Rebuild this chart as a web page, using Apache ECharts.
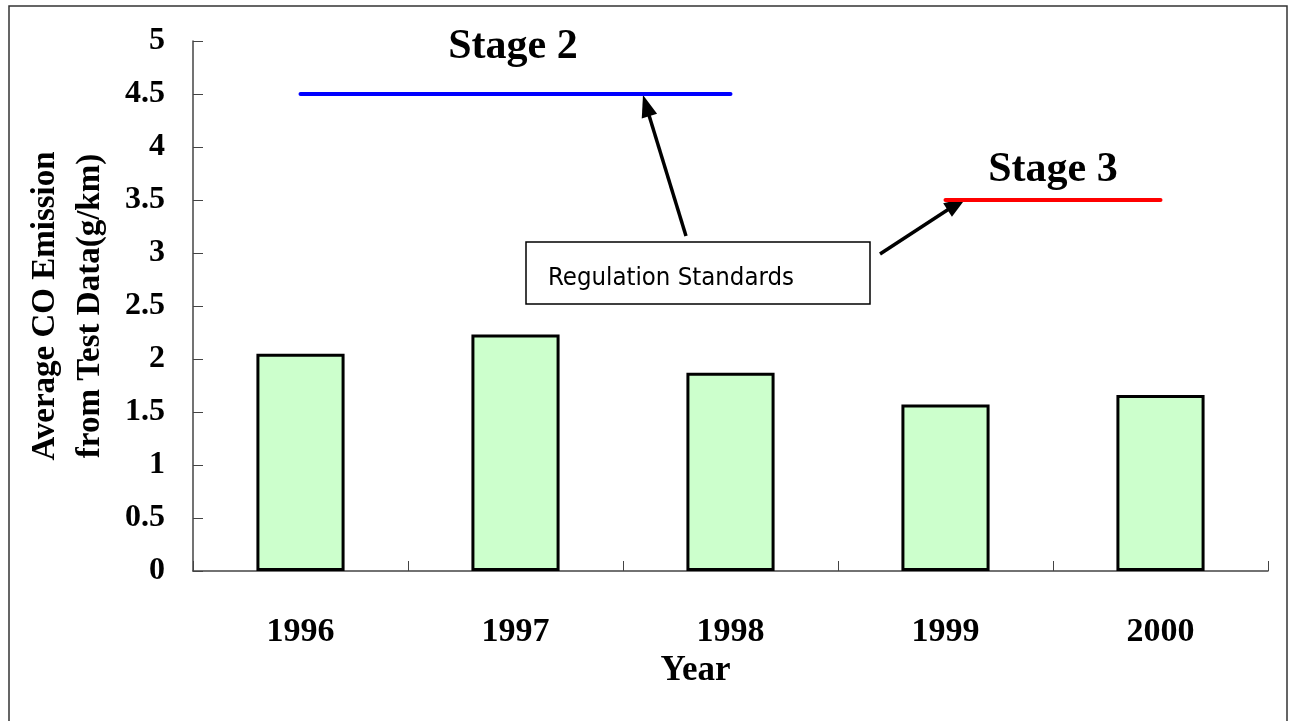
<!DOCTYPE html>
<html><head><meta charset="utf-8">
<script src="https://cdn.jsdelivr.net/npm/echarts@6/dist/echarts.min.js"></script>
<style>html,body{margin:0;padding:0;background:#fff}#c{width:1289px;height:721px}</style>
</head><body><div id="c"></div>
<script>
const years = ['1996','1997','1998','1999','2000'];
const avgCO = [2.05, 2.23, 1.87, 1.57, 1.66];
const stage2 = [4.5, 4.5, 4.5, null, null];
const stage3 = [null, null, null, 3.5, 3.5];
const yTicks = {min: 0, max: 5, interval: 0.5};

const chart = echarts.init(document.getElementById('c'));
const serif = 'Liberation Serif';
function arrowHead(tx, ty, fx, fy, len, half) {
  const dx = tx - fx, dy = ty - fy, L = Math.hypot(dx, dy);
  const ux = dx / L, uy = dy / L;
  const bx = tx - ux * len, by = ty - uy * len;
  return [[tx, ty], [bx - uy * half, by + ux * half], [bx + uy * half, by - ux * half]];
}
chart.setOption({
  animation: false,
  backgroundColor: '#fff',
  grid: {left: 193, right: 21, top: 41, bottom: 150, containLabel: false, outerBoundsMode: 'none'},
  xAxis: {
    type: 'category', data: years,
    axisLine: {lineStyle: {color: '#444', width: 1.5}},
    axisTick: {show: true, inside: true, length: 10, lineStyle: {color: '#444'}},
    axisLabel: {fontFamily: serif, fontWeight: 'bold', fontSize: 34, color: '#000', margin: 44},
    name: 'Year', nameLocation: 'middle', nameGap: 80,
    nameTextStyle: {fontFamily: serif, fontWeight: 'bold', fontSize: 35, color: '#000', padding: [0, 70, 0, 0]}
  },
  yAxis: {
    type: 'value', min: yTicks.min, max: yTicks.max, interval: yTicks.interval,
    splitLine: {show: false},
    axisLine: {show: true, lineStyle: {color: '#444', width: 1.5}},
    axisTick: {show: true, inside: true, length: 10, lineStyle: {color: '#444'}},
    axisLabel: {fontFamily: serif, fontWeight: 'bold', fontSize: 32, color: '#000', margin: 28},
    name: 'Average CO Emission\nfrom Test Data(g/km)', nameLocation: 'middle', nameGap: 80,
    nameTextStyle: {fontFamily: serif, fontWeight: 'bold', fontSize: 33, color: '#000', lineHeight: 45}
  },
  series: [
    {type: 'bar', data: avgCO, barWidth: '41%',
     itemStyle: {color: '#ccffcc', borderColor: '#000', borderWidth: 3}},
    {type: 'line', data: stage2, showSymbol: false, symbol: 'none',
     lineStyle: {color: '#0000ff', width: 4, cap: 'round'}},
    {type: 'line', data: stage3, showSymbol: false, symbol: 'none',
     lineStyle: {color: '#ff0000', width: 4, cap: 'round'}}
  ],
  graphic: [
    {type: 'rect', shape: {x: 9, y: 6, width: 1278, height: 730}, style: {fill: null, stroke: '#333', lineWidth: 1.5}, silent: true},
    {type: 'text', style: {text: 'Stage 2', x: 513, y: 47, align: 'center', verticalAlign: 'middle', font: 'bold 42px "Liberation Serif"', fill: '#000'}},
    {type: 'text', style: {text: 'Stage 3', x: 1053, y: 170, align: 'center', verticalAlign: 'middle', font: 'bold 42px "Liberation Serif"', fill: '#000'}},
    {type: 'rect', shape: {x: 526, y: 242, width: 344, height: 62}, style: {fill: '#fff', stroke: '#000', lineWidth: 1.5}},
    {type: 'text', style: {text: 'Regulation Standards', x: 548, y: 278, align: 'left', verticalAlign: 'middle', font: '25.5px "DejaVu Sans Condensed", "Liberation Sans Narrow", "DejaVu Sans", sans-serif', fill: '#000'}},
    {type: 'line', shape: {x1: 686, y1: 236, x2: 648, y2: 112}, style: {stroke: '#000', lineWidth: 3.5}},
    {type: 'polygon', shape: {points: arrowHead(643, 95, 686, 236, 22, 8)}, style: {fill: '#000'}},
    {type: 'line', shape: {x1: 880, y1: 254, x2: 952, y2: 207}, style: {stroke: '#000', lineWidth: 3.5}},
    {type: 'polygon', shape: {points: arrowHead(966, 198, 880, 254, 22, 8)}, style: {fill: '#000'}}
  ]
});
</script></body></html>
